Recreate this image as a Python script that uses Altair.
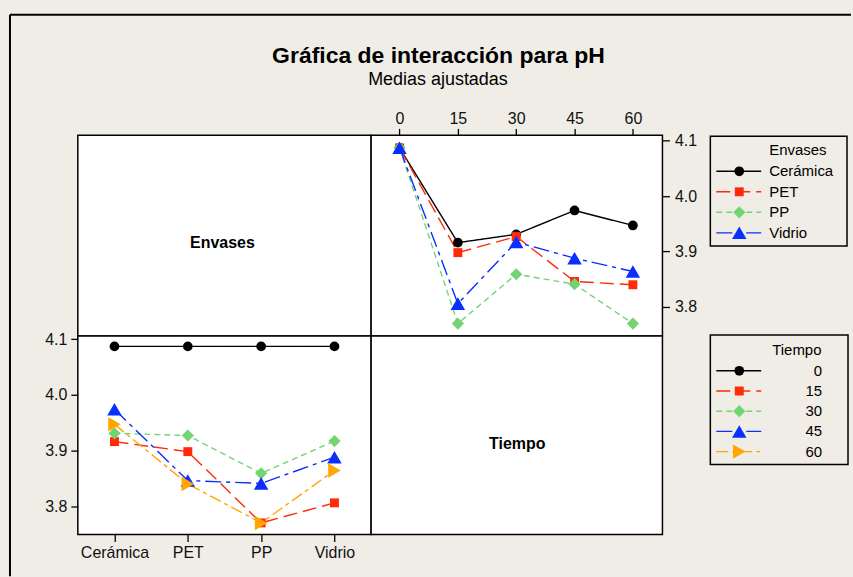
import altair as alt
import pandas as pd

# ---------------- data ----------------
envases = ["Cerámica", "PET", "PP", "Vidrio"]
tiempos = [0, 15, 30, 45, 60]
tiempo_lbls = ["0", "15", "30", "45", "60"]
ph_ceramica = [4.087, 3.916, 3.931, 3.974, 3.947]
ph_pet = [4.087, 3.898, 3.927, 3.846, 3.840]
ph_pp = [4.087, 3.770, 3.859, 3.841, 3.770]
ph_vidrio = [4.087, 3.806, 3.917, 3.888, 3.864]
y_ticks = [3.8, 3.9, 4.0, 4.1]

title_text = "Gráfica de interacción para pH"
subtitle_text = "Medias ajustadas"

# ---------------- styles ----------------
FONT = "Liberation Sans"
BG = "#f0ede6"
env_colors = ["#000000", "#ff2a0a", "#74d474", "#0a2eff"]
env_shapes = ["circle", "square", "diamond", "triangle-up"]
env_dashes = [[1, 0], [14, 6], [6, 4], [16, 5, 4, 5]]
env_sizes = [95, 80, 150, 210]
t_colors = env_colors + ["#ffa600"]
t_shapes = env_shapes + ["triangle-right"]
t_dashes = env_dashes + [[12, 4, 4, 4]]
t_sizes = env_sizes + [210]

means = {"Cerámica": ph_ceramica, "PET": ph_pet, "PP": ph_pp, "Vidrio": ph_vidrio}
rows = []
for e in envases:
    for t, lbl, v in zip(tiempos, tiempo_lbls, means[e]):
        rows.append({"Envases": e, "Tiempo": t, "TiempoLbl": lbl, "pH": v})
df = pd.DataFrame(rows)

one = pd.DataFrame({"k": [0]})

# encodings shared
c_env = alt.Color("Envases:N", scale=alt.Scale(domain=envases, range=env_colors), legend=None)
d_env = alt.StrokeDash("Envases:N", scale=alt.Scale(domain=envases, range=env_dashes), legend=None)
s_env = alt.Shape("Envases:N", scale=alt.Scale(domain=envases, range=env_shapes), legend=None)

c_t = alt.Color("TiempoLbl:N", scale=alt.Scale(domain=tiempo_lbls, range=t_colors), legend=None)
d_t = alt.StrokeDash("TiempoLbl:N", scale=alt.Scale(domain=tiempo_lbls, range=t_dashes), legend=None)
s_t = alt.Shape("TiempoLbl:N", scale=alt.Scale(domain=tiempo_lbls, range=t_shapes), legend=None)


def point_layers(base, field, cats, sizes, x, y, color, shape):
    out = []
    for cat, sz in zip(cats, sizes):
        out.append(
            base.transform_filter(alt.datum[field] == cat)
            .mark_point(filled=True, opacity=1, size=sz)
            .encode(x=x, y=y, color=color, shape=shape)
        )
    return out


# ---------------- top-left: label + frame + titles ----------------
tl = alt.layer(
    alt.Chart(one).mark_rule(color="black", strokeWidth=2).encode(
        x=alt.value(-68), y=alt.value(-121), y2=alt.value(442)),
    alt.Chart(one).mark_rule(color="black", strokeWidth=2).encode(
        x=alt.value(-68), x2=alt.value(775), y=alt.value(-121)),
    alt.Chart(one).mark_text(font=FONT, fontSize=23, fontWeight="bold", align="center",
                             baseline="alphabetic", color="black").encode(
        x=alt.value(361.5), y=alt.value(-73), text=alt.value(title_text)),
    alt.Chart(one).mark_text(font=FONT, fontSize=18, align="center",
                             baseline="alphabetic", color="black").encode(
        x=alt.value(361), y=alt.value(-50), text=alt.value(subtitle_text)),
    alt.Chart(one).mark_text(font=FONT, fontSize=16, fontWeight="bold", align="center",
                             baseline="middle", color="black").encode(
        x=alt.value(145), y=alt.value(108), text=alt.value("Envases")),
).properties(width=294, height=201)

# ---------------- top-right: pH vs Tiempo by Envases ----------------
x_tr = alt.X("Tiempo:Q",
             scale=alt.Scale(domain=[-7.3, 67.6], nice=False, zero=False),
             axis=alt.Axis(orient="top", values=tiempos, tickSize=7, labelPadding=2,
                           domain=False, grid=False, title=None))
y_tr = alt.Y("pH:Q",
             scale=alt.Scale(domain=[3.7478, 4.1095], nice=False, zero=False),
             axis=alt.Axis(orient="right", values=y_ticks, format=".1f", tickSize=7,
                           labelPadding=5, domain=False, grid=False, title=None))
tr_base = alt.Chart(df)
tr = alt.layer(
    tr_base.mark_line(strokeWidth=1.4).encode(x=x_tr, y=y_tr, color=c_env, strokeDash=d_env),
    *point_layers(tr_base, "Envases", envases, env_sizes, x_tr, y_tr, c_env, s_env),
).properties(width=292, height=201)

# ---------------- bottom-left: pH vs Envases by Tiempo ----------------
x_bl = alt.X("Envases:N",
             scale=alt.Scale(type="point", domain=envases, padding=0.5),
             axis=alt.Axis(orient="bottom", tickSize=7, labelPadding=3, labelAngle=0,
                           domain=False, grid=False, title=None))
y_bl = alt.Y("pH:Q",
             scale=alt.Scale(domain=[3.7493, 4.1059], nice=False, zero=False),
             axis=alt.Axis(orient="left", values=y_ticks, format=".1f", tickSize=7,
                           labelPadding=4, domain=False, grid=False, title=None))
bl_base = alt.Chart(df)
bl = alt.layer(
    bl_base.mark_line(strokeWidth=1.4).encode(x=x_bl, y=y_bl, color=c_t, strokeDash=d_t),
    *point_layers(bl_base, "TiempoLbl", tiempo_lbls, t_sizes, x_bl, y_bl, c_t, s_t),
).properties(width=294, height=199)

# ---------------- bottom-right: label ----------------
br = alt.Chart(one).mark_text(font=FONT, fontSize=16, fontWeight="bold", align="center",
                              baseline="middle", color="black").encode(
    x=alt.value(146.5), y=alt.value(108), text=alt.value("Tiempo")
).properties(width=292, height=199)

# ---------------- legends ----------------
leg_env_df = pd.DataFrame({"Envases": envases, "idx": [1, 2, 3, 4]})
y_le = alt.Y("idx:Q", scale=alt.Scale(domain=[1, 4], range=[36, 97.7]), axis=None)
x_leg = alt.value(77)
leg_env_base = alt.Chart(leg_env_df)
leg1 = alt.layer(
    alt.Chart(one).mark_rect(fillOpacity=0, stroke="black", strokeWidth=1.5).encode(
        x=alt.value(48), x2=alt.value(185), y=alt.value(1), y2=alt.value(111)),
    alt.Chart(one).mark_text(font=FONT, fontSize=15, align="left", baseline="middle",
                             color="black").encode(
        x=alt.value(107), y=alt.value(15), text=alt.value("Envases")),
    leg_env_base.mark_rule(strokeWidth=1.4).encode(
        x=alt.value(54), x2=alt.value(99), y=y_le, color=c_env, strokeDash=d_env),
    *point_layers(leg_env_base, "Envases", envases, env_sizes, x_leg, y_le, c_env, s_env),
    leg_env_base.mark_text(font=FONT, fontSize=15, align="left", baseline="middle",
                           color="black").encode(
        x=alt.value(107), y=y_le, text="Envases:N"),
).properties(width=189, height=201,
             view=alt.ViewBackground(strokeOpacity=0, fillOpacity=0))

leg_t_df = pd.DataFrame({"TiempoLbl": tiempo_lbls, "idx": [1, 2, 3, 4, 5]})
y_lt = alt.Y("idx:Q", scale=alt.Scale(domain=[1, 5], range=[35, 116]), axis=None)
leg_t_base = alt.Chart(leg_t_df)
leg2 = alt.layer(
    alt.Chart(one).mark_rect(fillOpacity=0, stroke="black", strokeWidth=1.5).encode(
        x=alt.value(48), x2=alt.value(186), y=alt.value(-1), y2=alt.value(129)),
    alt.Chart(one).mark_text(font=FONT, fontSize=15, align="left", baseline="middle",
                             color="black").encode(
        x=alt.value(110), y=alt.value(14), text=alt.value("Tiempo")),
    leg_t_base.mark_rule(strokeWidth=1.4).encode(
        x=alt.value(54), x2=alt.value(99), y=y_lt, color=c_t, strokeDash=d_t),
    *point_layers(leg_t_base, "TiempoLbl", tiempo_lbls, t_sizes, x_leg, y_lt, c_t, s_t),
    leg_t_base.mark_text(font=FONT, fontSize=15, align="right", baseline="middle",
                         color="black").encode(
        x=alt.value(160), y=y_lt, text="TiempoLbl:N"),
).properties(width=189, height=199,
             view=alt.ViewBackground(strokeOpacity=0, fillOpacity=0))

# ---------------- assemble ----------------
chart = alt.concat(
    tl, tr, leg1, bl, br, leg2, columns=3, spacing=0, bounds="flush", align="each"
).resolve_scale(
    x="independent", y="independent", color="independent", shape="independent",
    strokeDash="independent"
).properties(
    padding={"left": 8, "top": 12, "right": 0, "bottom": 0}
).configure(
    background=BG, font=FONT
).configure_view(
    stroke="black", strokeWidth=1.5, fill="white"
).configure_axis(
    labelFont=FONT, labelFontSize=16, labelColor="#111111",
    tickColor="black", tickWidth=1.3
)

chart.save("out.html", embed_options={"renderer": "svg", "actions": False})
